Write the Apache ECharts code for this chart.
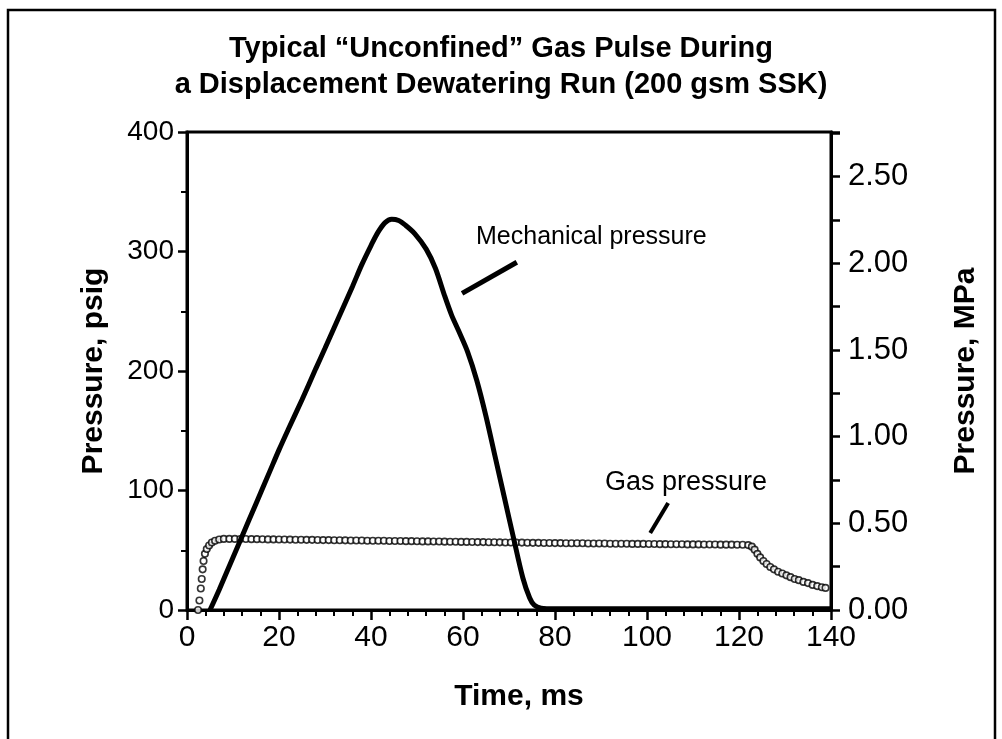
<!DOCTYPE html>
<html>
<head>
<meta charset="utf-8">
<script src="https://cdn.jsdelivr.net/npm/echarts@6/dist/echarts.min.js"></script>
<style>
  html, body { margin: 0; padding: 0; background: #fff; }
  #main { width: 1002px; height: 739px; }
</style>
</head>
<body>
<div id="main"></div>
<script>
// mechanical pressure, [ms, psig]
var mechPoints = [
  [5, 0], [7, 17], [10, 44], [12, 62], [15, 89], [18, 116], [20, 134], [22, 151],
  [25, 176], [28, 202], [30, 219], [33, 245], [36, 271], [38, 289], [40, 305],
  [41.5, 316], [43, 324], [44.5, 327], [46, 326], [47.5, 322], [49.5, 315], [52, 302],
  [54, 286], [56, 263], [57.5, 247], [59, 234], [61, 216], [63, 192], [65, 162],
  [67, 128], [69, 94], [71, 60], [73, 27], [74.5, 10], [75.5, 4], [77, 1.5],
  [80, 1], [100, 1], [140, 1]
];

// gas pressure: rise, [ms, psig]
var gasRise = [
  [2.4, 0], [2.7, 8], [3.0, 18], [3.2, 26], [3.4, 34], [3.6, 41], [3.9, 47],
  [4.3, 51], [4.8, 54], [5.4, 56.5], [6.1, 58], [7.0, 59], [8.0, 59.5]
];
// gas pressure: plateau, sampled every 1.2 ms from 9.2 ms
var gasPlateauStart = 9.2;
var gasPlateauStep = 1.2;
var gasPlateau = [
  59.5, 59.5, 59.4, 59.4, 59.3, 59.3, 59.2, 59.1, 59.1, 59.0,
  59.0, 58.9, 58.8, 58.8, 58.7, 58.7, 58.6, 58.5, 58.5, 58.4,
  58.4, 58.3, 58.2, 58.2, 58.1, 58.0, 58.0, 57.9, 57.9, 57.8,
  57.7, 57.7, 57.6, 57.6, 57.5, 57.4, 57.4, 57.3, 57.3, 57.2,
  57.1, 57.1, 57.0, 57.0, 56.9, 56.8, 56.8, 56.7, 56.7, 56.6,
  56.5, 56.5, 56.4, 56.4, 56.3, 56.2, 56.2, 56.1, 56.1, 56.0,
  56.0, 55.9, 55.9, 55.8, 55.8, 55.7, 55.7, 55.6, 55.6, 55.5,
  55.5, 55.4, 55.4, 55.3, 55.3, 55.3, 55.2, 55.2, 55.1, 55.1,
  55.0, 55.0, 55.0, 54.9, 54.9, 54.9, 54.8, 54.8, 54.8, 54.7,
  54.7, 54.7, 54.6, 54.6
];
// gas pressure: decay at the end, [ms, psig]
var gasDecay = [
  [122.0, 54.3], [122.8, 53], [123.4, 50.5], [124.0, 47], [124.6, 44], [125.3, 41],
  [126.0, 38.5], [126.8, 36], [127.6, 34], [128.5, 32], [129.4, 30.5], [130.3, 29],
  [131.2, 27.5], [132.1, 26], [133.0, 25], [134.0, 23.5], [135.0, 22.5], [136.0, 21],
  [137.0, 20], [138.0, 19], [138.8, 18.5]
];

var xTicks = [0, 20, 40, 60, 80, 100, 120, 140];
var psiTicks = [0, 100, 200, 300, 400];
var PSI_PER_MPA = 145.038;

var gasPoints = gasRise.slice();
for (var i = 0; i < gasPlateau.length; i++) {
  gasPoints.push([+(gasPlateauStart + i * gasPlateauStep).toFixed(2), gasPlateau[i]]);
}
gasPoints = gasPoints.concat(gasDecay);

var FONT = '"Liberation Sans", Arial, Helvetica, sans-serif';
var chart = echarts.init(document.getElementById('main'));

chart.setOption({
  animation: false,
  backgroundColor: '#fff',
  title: {
    text: 'Typical \u201cUnconfined\u201d Gas Pulse During\na Displacement Dewatering Run (200 gsm SSK)',
    left: 'center',
    top: 26,
    textStyle: { fontFamily: FONT, fontWeight: 'bold', fontSize: 29, color: '#000', lineHeight: 36 }
  },
  grid: {
    left: 187, right: 171, top: 132, bottom: 129,
    show: true, borderColor: '#000', borderWidth: 3
  },
  xAxis: {
    type: 'value',
    min: xTicks[0], max: xTicks[xTicks.length - 1], interval: 20,
    name: 'Time, ms', nameLocation: 'middle', nameGap: 72,
    nameTextStyle: { fontFamily: FONT, fontWeight: 'bold', fontSize: 30, color: '#000', padding: [0, 0, 0, 20] },
    axisLine: { onZero: false, lineStyle: { color: '#000', width: 3 } },
    axisTick: { show: true, inside: false, length: 10, lineStyle: { color: '#000', width: 2.5 } },
    minorTick: { show: true, splitNumber: 5, length: 6, lineStyle: { color: '#000', width: 2 } },
    axisLabel: { fontFamily: FONT, fontSize: 30, color: '#000', margin: 13 },
    splitLine: { show: false }
  },
  yAxis: [{
    type: 'value',
    min: psiTicks[0], max: psiTicks[psiTicks.length - 1], interval: 100,
    name: 'Pressure, psig', nameLocation: 'middle', nameGap: 78, nameRotate: 90,
    nameTextStyle: { fontFamily: FONT, fontWeight: 'bold', fontSize: 30, color: '#000' },
    axisLine: { show: true, onZero: false, lineStyle: { color: '#000', width: 3 } },
    axisTick: { show: true, inside: false, length: 9, lineStyle: { color: '#000', width: 2.5 } },
    minorTick: { show: true, splitNumber: 2, length: 6, lineStyle: { color: '#000', width: 2 } },
    axisLabel: { fontFamily: FONT, fontSize: 28, color: '#000', margin: 13 },
    splitLine: { show: false }
  }, {
    type: 'value',
    position: 'right',
    min: 0, max: psiTicks[psiTicks.length - 1] / PSI_PER_MPA, interval: 0.25,
    name: 'Pressure, MPa', nameLocation: 'middle', nameGap: 120, nameRotate: 90,
    nameTextStyle: { fontFamily: FONT, fontWeight: 'bold', fontSize: 30, color: '#000' },
    axisLine: { show: true, onZero: false, lineStyle: { color: '#000', width: 3 } },
    axisTick: { show: true, inside: false, length: 9, lineStyle: { color: '#000', width: 2.5 } },
    axisLabel: {
      fontFamily: FONT, fontSize: 31, color: '#000', margin: 17,
      formatter: function (v) {
        var k = Math.round(v / 0.5);
        if (Math.abs(v - k * 0.5) > 1e-6) return '';
        return v.toFixed(2);
      }
    },
    splitLine: { show: false }
  }],
  series: [{
    name: 'Gas pressure',
    type: 'scatter',
    data: gasPoints,
    symbol: 'circle',
    symbolSize: 6.5,
    itemStyle: { color: '#fff', borderColor: '#000', borderWidth: 1.6 },
    silent: true,
    z: 3,
    markLine: {
      silent: true, symbol: 'none', label: { show: false },
      lineStyle: { color: '#000', width: 4, type: 'solid' },
      data: [[{ coord: [104.6, 89.5] }, { coord: [100.7, 64.4] }]]
    }
  }, {
    name: 'Mechanical pressure',
    type: 'line',
    data: mechPoints,
    smooth: 0.3,
    showSymbol: false,
    lineStyle: { color: '#000', width: 5 },
    silent: true,
    z: 4,
    markLine: {
      silent: true, symbol: 'none', label: { show: false },
      lineStyle: { color: '#000', width: 5, type: 'solid' },
      data: [[{ coord: [59.8, 265] }, { coord: [71.7, 291] }]]
    }
  }],
  graphic: [{
    type: 'rect',
    shape: { x: 8, y: 10, width: 987, height: 760 },
    style: { fill: 'none', stroke: '#000', lineWidth: 2.5 },
    silent: true
  }, {
    type: 'text',
    left: 476, top: 225,
    style: { text: 'Mechanical pressure', font: '25px ' + FONT, fill: '#000' }
  }, {
    type: 'text',
    left: 605, top: 469,
    style: { text: 'Gas pressure', font: '27px ' + FONT, fill: '#000' }
  }]
});
</script>
</body>
</html>
